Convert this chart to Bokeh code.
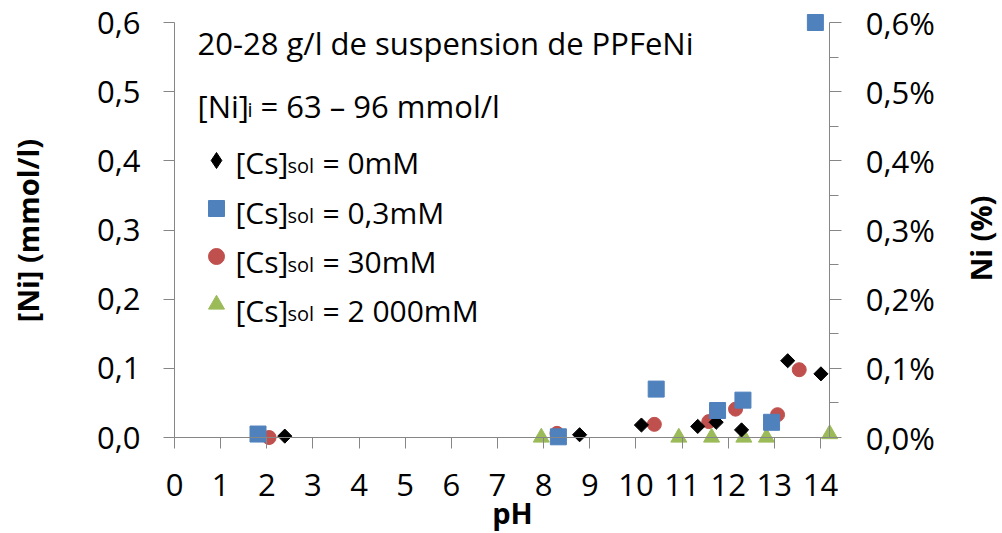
import math
from bokeh.plotting import figure
from bokeh.models import (Range1d, LinearAxis, FixedTicker, CustomJSTickFormatter,
                          Label, Legend, LegendItem)
from bokeh.core.properties import value
from bokeh.embed import file_html
from bokeh.resources import INLINE

# ---- data ----
ph_0mM = [2.39, 8.78, 10.12, 11.34, 11.74, 12.29, 13.29, 14.01]
ni_0mM = [0.002, 0.004, 0.018, 0.016, 0.022, 0.011, 0.111, 0.092]
ph_03mM = [1.81, 8.32, 10.44, 11.77, 12.32, 12.94, 13.89]
ni_03mM = [0.005, 0.001, 0.070, 0.039, 0.054, 0.022, 0.600]
ph_30mM = [2.05, 8.29, 10.40, 11.58, 12.16, 13.07, 13.54]
ni_30mM = [0.000, 0.006, 0.019, 0.023, 0.041, 0.033, 0.098]
ph_2000mM = [7.95, 10.93, 11.64, 12.34, 12.83, 14.20]
ni_2000mM = [0.000, 0.000, 0.000, 0.000, 0.000, 0.005]

x_ticks = list(range(0, 15))
y_ticks = [0.0, 0.1, 0.2, 0.3, 0.4, 0.5, 0.6]
y_minor = [0.05, 0.15, 0.25, 0.35, 0.45, 0.55]
x_axis_max = 14.2
y_axis_max = 0.6

series_names = ["0mM", "0,3mM", "30mM", "2 000mM"]
BLACK, BLUE, RED, GREEN = "#000000", "#4F81BD", "#C0504D", "#9BBB59"
AXIS = "#868686"
FONT = "Open Sans"

W, H = 1002, 532
# the whole canvas is the plot frame; axes are pinned to data locations
p = figure(width=W, height=H,
           x_range=Range1d(-3.7711, 17.9454), y_range=Range1d(-0.13735, 0.63181),
           output_backend="svg", toolbar_location=None,
           x_axis_location=None, y_axis_location=None,
           min_border=0, min_border_left=0, min_border_right=0,
           min_border_top=0, min_border_bottom=0)
p.outline_line_color = None
p.grid.grid_line_color = None
p.background_fill_color = "white"

def style(ax, tick_out=11):
    ax.axis_line_color = AXIS
    ax.major_tick_line_color = AXIS
    ax.minor_tick_line_color = AXIS
    ax.major_tick_in = 0
    ax.major_tick_out = tick_out
    ax.minor_tick_in = 0
    ax.major_label_text_font = FONT
    ax.major_label_text_font_size = "31px"
    ax.major_label_text_color = "black"

xaxis = LinearAxis(ticker=FixedTicker(ticks=x_ticks), fixed_location=0,
                   bounds=(0, x_axis_max))
style(xaxis)
xaxis.major_label_standoff = 25
xaxis.minor_tick_out = 0
p.add_layout(xaxis, "below")

yl = LinearAxis(ticker=FixedTicker(ticks=y_ticks), fixed_location=0, bounds=(0, y_axis_max),
                formatter=CustomJSTickFormatter(code="return tick.toFixed(1).replace('.', ',')"))
style(yl)
yl.minor_tick_out = 0
yl.major_label_standoff = 23
p.add_layout(yl, "left")

yr = LinearAxis(ticker=FixedTicker(ticks=y_ticks, minor_ticks=y_minor),
                fixed_location=x_axis_max, bounds=(0, y_axis_max),
                formatter=CustomJSTickFormatter(code="return tick.toFixed(1).replace('.', ',') + '%'"))
style(yr, tick_out=12)
yr.minor_tick_out = 9
yr.major_label_standoff = 24
p.add_layout(yr, "right")

# ---- data points ----
r30 = p.scatter(ph_30mM, ni_30mM, marker="circle", size=14, fill_color=RED, line_color=RED)
r2000 = p.scatter(ph_2000mM, ni_2000mM, marker="triangle", size=16, fill_color=GREEN, line_color=GREEN)
# diamond glyph (hidden under the rotated squares) used for the legend swatch
r0_leg = p.scatter(ph_0mM, ni_0mM, marker="diamond", size=12, fill_color=BLACK, line_color=BLACK)
r0 = p.scatter(ph_0mM, ni_0mM, marker="square", size=10, angle=math.pi / 4,
               fill_color=BLACK, line_color=BLACK)
r03 = p.scatter(ph_03mM, ni_03mM, marker="square", size=16, fill_color=BLUE, line_color=BLUE)

legend = Legend(items=[LegendItem(label=value(" "), renderers=[r]) for r in (r0_leg, r03, r30, r2000)],
                location=(195.5, 208), glyph_width=40, glyph_height=40, spacing=8,
                padding=0, margin=0, border_line_color=None, background_fill_alpha=0,
                label_text_font_size="1px", label_standoff=0, label_width=0, label_height=40)
p.add_layout(legend)

def lab(x, y, text, size="31px", **kw):
    p.add_layout(Label(x=x, y=y, x_units="screen", y_units="screen", text=text,
                       text_font=FONT, text_font_size=size, text_color="black",
                       text_baseline=kw.pop("text_baseline", "alphabetic"), **kw))

# annotation text
lab(197, 490, "20-28 g/l de suspension de PPFeNi")
lab(197, 427, "[Ni]")
lab(247, 423, "i", size="20px")
lab(260, 427, "= 63 \u2013 96 mmol/l")

# legend texts
row_y = [370, 320.5, 271, 222]
for yy, name in zip(row_y, series_names):
    lab(235, yy, "[Cs]", size="30px")
    lab(287, yy - 3, "sol", size="20px")
    lab(322, yy, "= " + name, size="30px")

# axis titles
lab(27, 302, "[Ni] (mmol/l)", size="29px", angle=math.pi / 2, text_align="center",
    text_baseline="middle", text_font_style="bold")
lab(980, 294, "Ni (%)", size="29px", angle=math.pi / 2, text_align="center",
    text_baseline="middle", text_font_style="bold")
lab(512, 20, "pH", size="29px", text_align="center", text_font_style="bold")

open("out.html", "w").write(file_html(p, INLINE))
